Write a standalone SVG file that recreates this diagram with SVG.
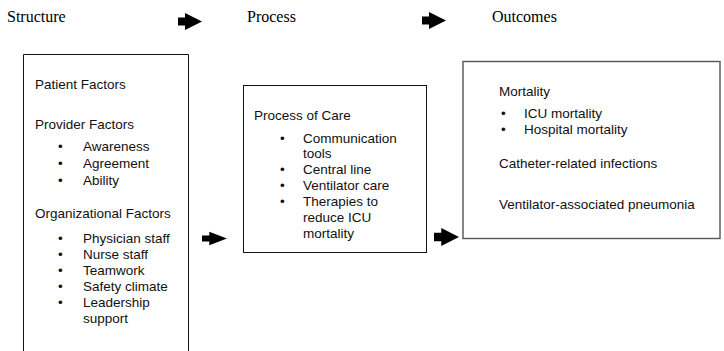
<svg xmlns="http://www.w3.org/2000/svg" width="724" height="351" viewBox="0 0 724 351">
<style>
.hdr{font-family:"Liberation Serif","Times New Roman",serif;font-size:16px;fill:#000}
.t{font-family:"Liberation Sans",Arial,Helvetica,sans-serif;font-size:13.5px;fill:#111}
.box{fill:#fff;stroke:#111;stroke-width:1}
.box2{fill:#fff;stroke:#555;stroke-width:1.4}
.arr{fill:#000}
</style>
<defs>
<path id="ar" d="M0,-4 H7 V-8.5 L24,0 L7,8.5 V4 H0 Z"/>
</defs>
<rect width="724" height="351" fill="#fff"/>
<g id="headers">
<text class="hdr" x="7" y="22">Structure</text>
<text class="hdr" x="247" y="22">Process</text>
<text class="hdr" x="492" y="22">Outcomes</text>
</g>
<g id="connectors">
<use href="#ar" class="arr" transform="translate(178,21.5)"/>
<use href="#ar" class="arr" transform="translate(422,20.5)"/>
<use href="#ar" class="arr" transform="translate(202,238.5) scale(1.04,0.78)"/>
<use href="#ar" class="arr" transform="translate(434,237) scale(1.04,1.05)"/>
</g>
<g id="structure">
<path class="box" d="M23.5,352 V54.5 H188.5 V352"/>
<text class="t" x="35" y="89">Patient Factors</text>
<text class="t" x="35" y="129">Provider Factors</text>
<text class="t" x="58" y="151">•</text><text class="t" x="83" y="151">Awareness</text>
<text class="t" x="58" y="168">•</text><text class="t" x="83" y="168">Agreement</text>
<text class="t" x="58" y="185">•</text><text class="t" x="83" y="185">Ability</text>
<text class="t" x="35" y="218">Organizational Factors</text>
<text class="t" x="58" y="243">•</text><text class="t" x="83" y="243">Physician staff</text>
<text class="t" x="58" y="259">•</text><text class="t" x="83" y="259">Nurse staff</text>
<text class="t" x="58" y="275">•</text><text class="t" x="83" y="275">Teamwork</text>
<text class="t" x="58" y="291">•</text><text class="t" x="83" y="291">Safety climate</text>
<text class="t" x="58" y="307">•</text><text class="t" x="83" y="307">Leadership</text>
<text class="t" x="83" y="323">support</text>
</g>
<g id="process">
<rect class="box" x="243.5" y="85.5" width="183" height="167"/>
<text class="t" x="254" y="120">Process of Care</text>
<text class="t" x="280" y="143">•</text><text class="t" x="303" y="143">Communication</text>
<text class="t" x="303" y="158">tools</text>
<text class="t" x="280" y="174">•</text><text class="t" x="303" y="174">Central line</text>
<text class="t" x="280" y="190">•</text><text class="t" x="303" y="190">Ventilator care</text>
<text class="t" x="280" y="206">•</text><text class="t" x="303" y="206">Therapies to</text>
<text class="t" x="303" y="222">reduce ICU</text>
<text class="t" x="303" y="238">mortality</text>
</g>
<g id="outcomes">
<rect class="box2" x="463" y="61.5" width="257" height="177"/>
<text class="t" x="499" y="96">Mortality</text>
<text class="t" x="501" y="118">•</text><text class="t" x="524" y="118">ICU mortality</text>
<text class="t" x="501" y="134">•</text><text class="t" x="524" y="134">Hospital mortality</text>
<text class="t" x="499" y="168">Catheter-related infections</text>
<text class="t" x="499" y="209">Ventilator-associated pneumonia</text>
</g>
</svg>
